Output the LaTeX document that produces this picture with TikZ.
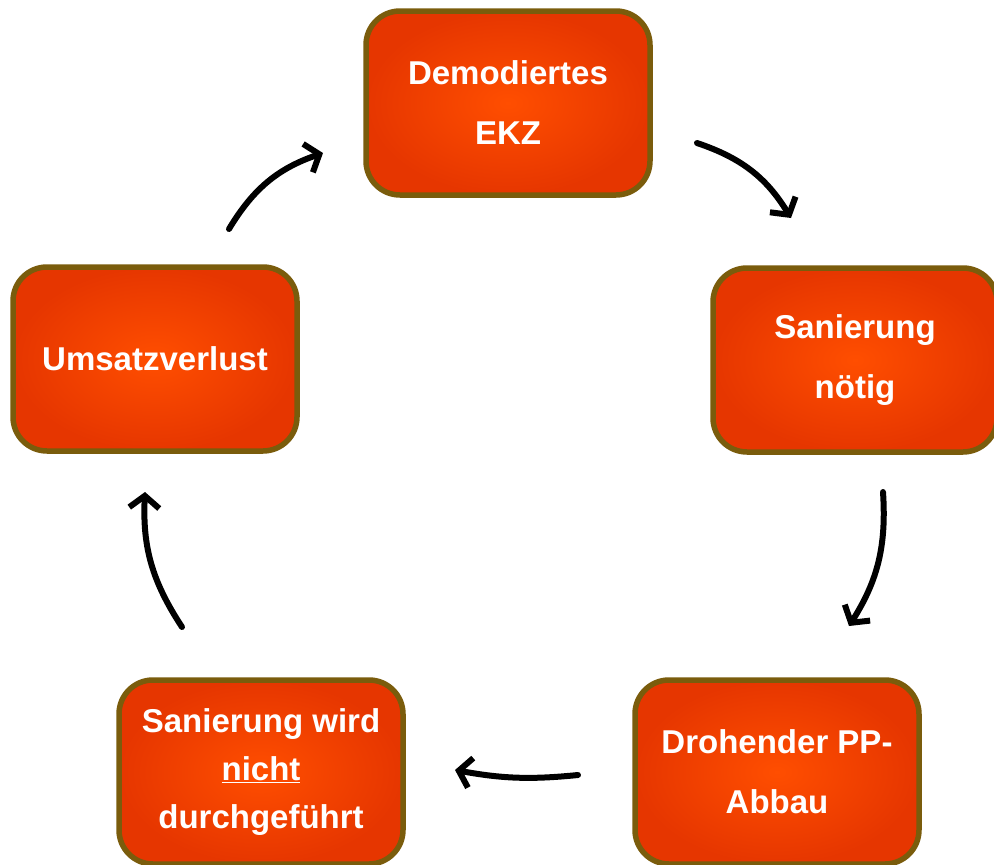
\documentclass[tikz,border=0pt]{standalone}
\usepackage{fontspec}
\setmainfont{Liberation Sans}
\usetikzlibrary{arrows.meta}
\definecolor{boxin}{HTML}{FF4E00}
\definecolor{boxout}{HTML}{E63600}
\definecolor{boxline}{HTML}{7A5C0C}
\tikzset{
  box/.style={draw=boxline, line width=5.5pt, rounded corners=34pt,
    inner color=boxin, outer color=boxout,
    minimum width=284pt, minimum height=184pt, align=center,
    text=white, font=\fontsize{33}{60}\selectfont\bfseries},
  cyc/.style={line width=6pt, black, line cap=round,
    -{Straight Barb[length=12pt,width=30pt]}}
}
\begin{document}
\begin{tikzpicture}[x=1pt,y=-1pt]
\useasboundingbox (0,0) rectangle (994,865);
\node[box] (top) at (508,103) {Demodiertes\\EKZ};
\node[box] (right) at (855,360) {Sanierung\\nötig};
\node[box] (bright) at (777,772) {Drohender PP-\\Abbau};
\node[box, font=\fontsize{33}{48}\selectfont\bfseries] (bleft) at (261,772) {Sanierung wird\\\underline{nicht}\\durchgeführt};
\node[box] (left) at (155,359) {Umsatzverlust};
\coordinate (a1s) at (697,143); \coordinate (a1e) at (791,218);
\coordinate (a2s) at (883,492); \coordinate (a2e) at (849,626);
\coordinate (a3s) at (578,775); \coordinate (a3e) at (455,770);
\coordinate (a4s) at (182,627); \coordinate (a4e) at (145,492);
\coordinate (a5s) at (229,229); \coordinate (a5e) at (323,153);
\draw[cyc] (a1s) to[bend left=20] (a1e);
\draw[cyc] (a2s) to[bend left=18] (a2e);
\draw[cyc] (a3s) to[bend left=8] (a3e);
\draw[cyc] (a4s) to[bend left=18] (a4e);
\draw[cyc] (a5s) to[bend left=20] (a5e);
\end{tikzpicture}
\end{document}
